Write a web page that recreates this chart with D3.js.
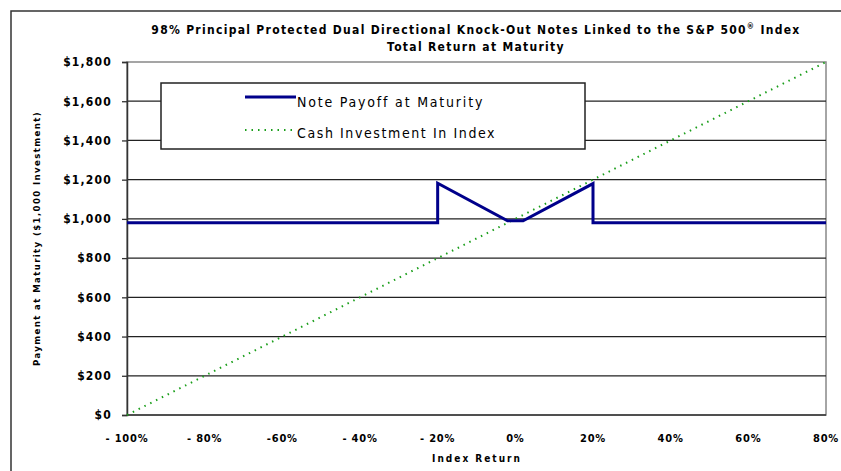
<!DOCTYPE html>
<html>
<head>
<meta charset="utf-8">
<title>Knock-Out Notes</title>
<script src="https://d3js.org/d3.v7.min.js"></script>
<style>
  body { margin: 0; background: #fff; }
  text { font-family: "Liberation Sans Narrow", "DejaVu Sans Condensed", "Liberation Sans", sans-serif; }
</style>
</head>
<body>
<script>
// index return (%) and payment values
var returns = [-100, -80, -60, -40, -20, 0, 20, 40, 60, 80]
var xTickLabels = ["- 100%", "- 80%", "-60%", "- 40%", "- 20%", "0%", "20%", "40%", "60%", "80%"]
var yTicks = [0, 200, 400, 600, 800, 1000, 1200, 1400, 1600, 1800]
var yTickLabels = ["$0", "$200", "$400", "$600", "$800", "$1,000", "$1,200", "$1,400", "$1,600", "$1,800"]

var noteReturn = [-100, -20, -20, -2, 2, 20, 20, 80]
var notePayoff = [980, 980, 1182, 990, 990, 1180, 980, 980]
var cashReturn = [-100, 80]
var cashValue = [0, 1800]

var width = 841, height = 471
var margin = {left: 127, right: 15, top: 62, bottom: 56}

var svg = d3.select("body").append("svg")
  .attr("width", width)
  .attr("height", height)

// outer chart border
svg.append("rect")
  .attr("x", 11).attr("y", 11)
  .attr("width", width).attr("height", height)
  .attr("fill", "none").attr("stroke", "#333").attr("stroke-width", 1.5)

var x = d3.scaleLinear().domain([-100, 80]).range([margin.left, width - margin.right])
var y = d3.scaleLinear().domain([0, 1800]).range([height - margin.bottom, margin.top])

// plot frame
svg.append("rect")
  .attr("x", x(-100)).attr("y", y(1800))
  .attr("width", x(80) - x(-100)).attr("height", y(0) - y(1800))
  .attr("fill", "none").attr("stroke", "#888").attr("stroke-width", 1.5)

// gridlines
svg.selectAll(".grid")
  .data(yTicks.filter(d => d > 0 && d < 1800))
  .enter().append("line")
    .attr("x1", x(-100)).attr("x2", x(80))
    .attr("y1", d => y(d)).attr("y2", d => y(d))
    .attr("stroke", "#222").attr("stroke-width", 1.3)

// y axis
var yAxis = d3.axisLeft(y).tickValues(yTicks).tickSize(5).tickFormat((d, i) => yTickLabels[i])
var gy = svg.append("g").attr("transform", "translate(" + x(-100) + ",0)").call(yAxis)
gy.select(".domain").attr("stroke", "#333").attr("stroke-width", 1.5)
gy.selectAll(".tick line").attr("stroke", "#333").attr("stroke-width", 1.3)
gy.selectAll("text")
  .attr("font-size", 12).attr("font-weight", "bold").attr("fill", "#000")
  .attr("letter-spacing", 1.2).attr("dx", -7)

// x axis (labels only)
svg.append("line")
  .attr("x1", x(-100)).attr("x2", x(80))
  .attr("y1", y(0)).attr("y2", y(0))
  .attr("stroke", "#333").attr("stroke-width", 1.5)
svg.selectAll(".xlab")
  .data(returns)
  .enter().append("text")
    .attr("x", d => x(d))
    .attr("y", y(0) + 27)
    .attr("text-anchor", "middle")
    .attr("font-size", 11).attr("font-weight", "bold")
    .attr("letter-spacing", 0.8)
    .text((d, i) => xTickLabels[i])

// cash investment line
var cashData = cashReturn.map((r, i) => [r, cashValue[i]])
var line = d3.line().x(d => x(d[0])).y(d => y(d[1]))
svg.append("path")
  .datum(cashData)
  .attr("d", line)
  .attr("fill", "none")
  .attr("stroke", "#1a9e1a")
  .attr("stroke-width", 2)
  .attr("stroke-dasharray", "1.5,5")

// note payoff line
var noteData = noteReturn.map((r, i) => [r, notePayoff[i]])
svg.append("path")
  .datum(noteData)
  .attr("d", line)
  .attr("fill", "none")
  .attr("stroke", "#00008b")
  .attr("stroke-width", 3)

// titles
svg.append("text")
  .attr("x", 476).attr("y", 34)
  .attr("text-anchor", "middle")
  .attr("font-size", 12).attr("font-weight", "bold")
  .attr("letter-spacing", 1.3)
  .html("98% Principal Protected Dual Directional Knock-Out Notes Linked to the S&amp;P 500<tspan dy='-5' font-size='8'>®</tspan><tspan dy='5'> Index</tspan>")
svg.append("text")
  .attr("x", 476).attr("y", 51)
  .attr("text-anchor", "middle")
  .attr("font-size", 12).attr("font-weight", "bold")
  .attr("letter-spacing", 1.3)
  .text("Total Return at Maturity")

svg.append("text")
  .attr("transform", "translate(40," + y(900) + ") rotate(-90)")
  .attr("text-anchor", "middle")
  .attr("font-size", 9.5).attr("font-weight", "bold")
  .attr("letter-spacing", 1.4)
  .text("Payment at Maturity ($1,000 Investment)")

svg.append("text")
  .attr("x", 477).attr("y", 462)
  .attr("text-anchor", "middle")
  .attr("font-size", 10).attr("font-weight", "bold")
  .attr("letter-spacing", 2)
  .text("Index Return")

// legend
var legend = svg.append("g")
legend.append("rect")
  .attr("x", 161).attr("y", 83)
  .attr("width", 424).attr("height", 66)
  .attr("fill", "#fff").attr("stroke", "#222").attr("stroke-width", 1.5)
legend.append("line")
  .attr("x1", 245).attr("x2", 296).attr("y1", 97).attr("y2", 97)
  .attr("stroke", "#00008b").attr("stroke-width", 3)
legend.append("line")
  .attr("x1", 245).attr("x2", 296).attr("y1", 130).attr("y2", 130)
  .attr("stroke", "#1a9e1a").attr("stroke-width", 2).attr("stroke-dasharray", "1.5,5")
legend.append("text")
  .attr("x", 297).attr("y", 107)
  .attr("font-family", "'DejaVu Sans', sans-serif")
  .attr("font-size", 14).attr("letter-spacing", 1.8)
  .text("Note Payoff at Maturity")
legend.append("text")
  .attr("x", 297).attr("y", 138)
  .attr("font-family", "'DejaVu Sans', sans-serif")
  .attr("font-size", 14).attr("letter-spacing", 1.6)
  .text("Cash Investment In Index")
</script>
</body>
</html>
